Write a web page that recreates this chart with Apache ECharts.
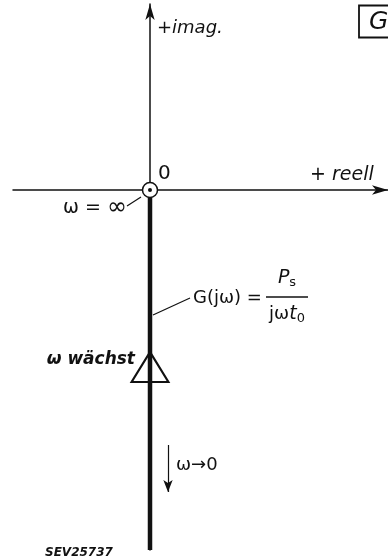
<!DOCTYPE html>
<html>
<head>
<meta charset="utf-8">
<script src="https://cdn.jsdelivr.net/npm/echarts@6/dist/echarts.min.js"></script>
<style>
  html, body { margin: 0; padding: 0; background: #fff; }
  #chart { width: 388px; height: 559px; }
</style>
</head>
<body>
<div id="chart"></div>
<script>
// locus of G(jw) = Ps / (jw t0): the negative imaginary axis
const locusRe = [0, 0]
const locusIm = [0, -360]

// texts on the diagram
const axisTexts = ['+imag.', '+ reell', '0']
const boxText = 'G'
const pointTexts = ['ω = {big|∞}', 'ω wächst', 'ω→0']
const formulaLeft = 'G(jω) ='
const formulaNum = '{it|P}{sub|s}'
const formulaDen = 'jω{it|t}{sub|0}'
const figureCode = 'SEV25737'

const ink = '#111'
const font = 'DejaVu Sans'

const chart = echarts.init(document.getElementById('chart'))

const rich = {
  it: { fontFamily: font, fontSize: 19, fontStyle: 'italic', color: ink },
  big: { fontFamily: font, fontSize: 24, color: ink },
  sub: { fontFamily: font, fontSize: 13, color: ink, padding: [10, 0, 0, 0] }
}

function textPoint(text, x, y, label) {
  return {
    value: [x, y],
    label: Object.assign({
      show: true,
      formatter: text,
      position: 'inside',
      align: 'left',
      verticalAlign: 'middle',
      color: ink,
      fontFamily: font,
      fontSize: 18,
      fontStyle: 'italic',
      rich: rich
    }, label || {})
  }
}

chart.setOption({
  animation: false,
  backgroundColor: '#fff',
  grid: { left: 13, right: 0, top: 4, bottom: 9 },
  xAxis: {
    type: 'value',
    min: -137,
    max: 238,
    axisLine: {
      onZero: true,
      symbol: ['none', 'arrow'],
      symbolSize: [7, 16],
      lineStyle: { color: ink, width: 1.5 }
    },
    axisTick: { show: false },
    axisLabel: { show: false },
    splitLine: { show: false }
  },
  yAxis: {
    type: 'value',
    min: -360,
    max: 186,
    axisLine: {
      onZero: true,
      symbol: ['none', 'arrow'],
      symbolSize: [7, 16],
      lineStyle: { color: ink, width: 1.5 }
    },
    axisTick: { show: false },
    axisLabel: { show: false },
    splitLine: { show: false }
  },
  series: [
    {
      // thick locus
      type: 'line',
      data: locusRe.map((x, i) => [x, locusIm[i]]),
      symbol: 'none',
      lineStyle: { color: ink, width: 4.5 },
      z: 3,
      markLine: {
        silent: true,
        symbol: ['none', 'arrow'],
        symbolSize: [7, 12],
        label: { show: false },
        lineStyle: { color: ink, width: 1.2, type: 'solid' },
        data: [[{ coord: [18, -255] }, { coord: [18, -302] }]]
      }
    },
    {
      // leader w = inf
      type: 'line',
      data: [[-23, -16], [-9, -7]],
      symbol: 'none',
      lineStyle: { color: ink, width: 1.2 }
    },
    {
      // leader G(jw)
      type: 'line',
      data: [[3, -125], [40, -108]],
      symbol: 'none',
      lineStyle: { color: ink, width: 1.2 }
    },
    {
      // fraction bar
      type: 'line',
      data: [[116, -107], [158, -107]],
      symbol: 'none',
      lineStyle: { color: ink, width: 1.5 }
    },
    {
      // direction triangle
      type: 'scatter',
      data: [[0, -177]],
      symbol: 'triangle',
      symbolSize: [37, 30],
      itemStyle: { color: 'rgba(0,0,0,0)', borderColor: ink, borderWidth: 2, opacity: 1 },
      z: 4
    },
    {
      // origin ring
      type: 'scatter',
      data: [[0, 0]],
      symbol: 'circle',
      symbolSize: 15,
      itemStyle: { color: '#fff', borderColor: ink, borderWidth: 1.5, opacity: 1 },
      z: 5
    },
    {
      type: 'scatter',
      data: [[0, 0]],
      symbol: 'circle',
      symbolSize: 4,
      itemStyle: { color: ink, opacity: 1 },
      z: 6
    },
    {
      // texts
      type: 'scatter',
      symbolSize: 0,
      clip: false,
      itemStyle: { opacity: 1 },
      z: 7,
      data: [
        textPoint(axisTexts[0], 7, 162),
        textPoint(axisTexts[1], 160, 15, { fontSize: 19 }),
        textPoint(axisTexts[2], 8, 16, { fontStyle: 'normal', fontSize: 20 }),
        textPoint(boxText, 209, 168.5, {
          fontSize: 25,
          borderColor: ink,
          borderWidth: 1.8,
          padding: [4, 30, 3, 10]
        }),
        textPoint(pointTexts[0], -87, -18, { fontStyle: 'normal', fontSize: 19 }),
        textPoint(pointTexts[1], -15, -170, { align: 'right', fontWeight: 'bold', fontSize: 17 }),
        textPoint(pointTexts[2], 26, -275, { fontStyle: 'normal' }),
        textPoint(formulaLeft, 43, -108, { fontStyle: 'normal' }),
        textPoint(formulaNum, 137, -88, { align: 'center', fontStyle: 'normal' }),
        textPoint(formulaDen, 137, -124, { align: 'center', fontStyle: 'normal' }),
        textPoint(figureCode, -105, -363, { fontSize: 12, fontWeight: 'bold' })
      ]
    }
  ]
})
</script>
</body>
</html>
